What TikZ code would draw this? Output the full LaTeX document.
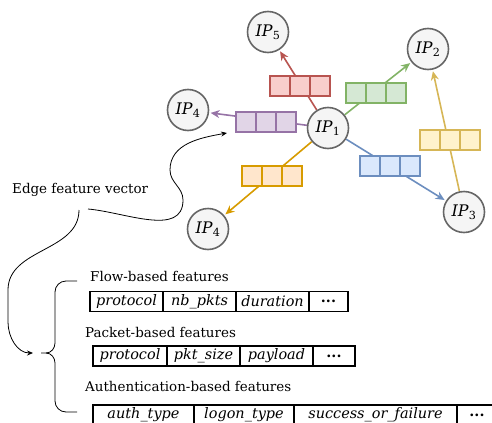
\documentclass[tikz,border=0pt]{standalone}
\usepackage{fontspec}
\setmainfont{DejaVu Serif}
\usetikzlibrary{arrows.meta,backgrounds,positioning}

\definecolor{ipfill}{HTML}{F5F5F5}
\definecolor{ipline}{HTML}{666666}
\definecolor{redfill}{HTML}{F8CECC}
\definecolor{redline}{HTML}{B85450}
\definecolor{greenfill}{HTML}{D5E8D4}
\definecolor{greenline}{HTML}{82B366}
\definecolor{purplefill}{HTML}{E1D5E7}
\definecolor{purpleline}{HTML}{9673A6}
\definecolor{orangefill}{HTML}{FFE6CC}
\definecolor{orangeline}{HTML}{D79B00}
\definecolor{bluefill}{HTML}{DAE8FC}
\definecolor{blueline}{HTML}{6C8EBF}
\definecolor{yellowfill}{HTML}{FFF2CC}
\definecolor{yellowline}{HTML}{D6B656}

\newcommand{\iplbl}[1]{\textit{IP}\textsubscript{#1}}

\begin{document}
\begin{tikzpicture}[x=1bp,y=1bp,>={Stealth[length=9bp,width=8bp]},
  ip/.style={circle,draw=ipline,fill=ipfill,line width=1.6bp,minimum size=41bp,inner sep=0pt,font=\fontsize{16}{18}\selectfont},
  cell/.style={draw=#1line,fill=#1fill,line width=1.4bp,minimum size=20bp,inner sep=0pt,outer sep=0pt},
  link/.style={->,line width=1.6bp,color=#1line,shorten >=1.5bp},
  feat/.style={draw,line width=1.6bp,minimum height=20bp,inner sep=0pt,outer sep=0pt,font=\fontsize{14.5}{16}\selectfont\itshape},
  ttl/.style={anchor=base west,inner sep=0pt,font=\fontsize{13.5}{16}\selectfont},
  curve/.style={->,line width=0.8bp,>={Stealth[length=6bp,width=5bp]}}]
  \useasboundingbox (0,0) rectangle (492,422);

  % hosts
  \node[ip] (ip1) at (328,294) {\iplbl{1}};
  \node[ip] (ip5) at (268,390) {\iplbl{5}};
  \node[ip] (ip2) at (428,373) {\iplbl{2}};
  \node[ip] (ip4a) at (188,312) {\iplbl{4}};
  \node[ip] (ip4b) at (208,193) {\iplbl{4}};
  \node[ip] (ip3) at (464,210) {\iplbl{3}};

  % edge vectors
  \node[cell=red]    (red2)    at (300,336) {};
  \node[cell=red]    (red1)    [left=0pt of red2]    {};
  \node[cell=red]    (red3)    [right=0pt of red2]   {};
  \node[cell=green]  (green2)  at (376,329) {};
  \node[cell=green]  (green1)  [left=0pt of green2]  {};
  \node[cell=green]  (green3)  [right=0pt of green2] {};
  \node[cell=purple] (purple2) at (266,300) {};
  \node[cell=purple] (purple1) [left=0pt of purple2] {};
  \node[cell=purple] (purple3) [right=0pt of purple2]{};
  \node[cell=orange] (orange2) at (272,246) {};
  \node[cell=orange] (orange1) [left=0pt of orange2] {};
  \node[cell=orange] (orange3) [right=0pt of orange2]{};
  \node[cell=blue]   (blue2)   at (390,256) {};
  \node[cell=blue]   (blue1)   [left=0pt of blue2]   {};
  \node[cell=blue]   (blue3)   [right=0pt of blue2]  {};
  \node[cell=yellow] (yellow2) at (450,282) {};
  \node[cell=yellow] (yellow1) [left=0pt of yellow2] {};
  \node[cell=yellow] (yellow3) [right=0pt of yellow2]{};

  \begin{scope}[on background layer]
    \draw[link=red]    (ip1) to (ip5);
    \draw[link=green]  (ip1) to (ip2);
    \draw[link=purple] (ip1) to (ip4a);
    \draw[link=orange] (ip1) to (ip4b);
    \draw[link=blue]   (ip1) to (ip3);
    \draw[link=yellow] (ip3) to (ip2);
  \end{scope}

  % label and pointers
  \node[ttl] (edge) at (12,229) {Edge feature vector};
  \coordinate (edgeA) at (88,213);
  \coordinate (edgeB) at (79,212);
  \coordinate (vecin) at (227,289);
  \coordinate (btip)  at (41,69);
  \coordinate (bin)   at (33,69);
  \draw[curve] (edgeA) to[out=-5,in=-90] (183,222) to[out=90,in=-90] (170,252)
    to[out=90,in=190] (vecin);
  \draw[curve] (edgeB) to[out=-90,in=90] (8,132) -- (8,100) to[out=-90,in=180] (bin);

  % brace
  \draw[line width=0.8bp] (77,141) -- (66,141) to[out=180,in=90] (55,130) -- (55,79)
    to[out=-90,in=0] (46,69) -- (btip);
  \draw[line width=0.8bp] (46,69) to[out=0,in=90] (55,59) -- (55,21)
    to[out=-90,in=180] (66,10) -- (77,10);

  % feature tables
  \node[ttl] (flow) at (90,141) {Flow-based features};
  \node[feat,minimum width=73bp,anchor=west] (f1) at (90,120.5) {protocol};
  \node[feat,minimum width=73bp] (f2) [right=0pt of f1] {nb\_pkts};
  \node[feat,minimum width=73bp] (f3) [right=0pt of f2] {duration};
  \node[feat,minimum width=39bp] (f4) [right=0pt of f3] {\upshape\bfseries ...};

  \node[ttl] (packet) at (85,85) {Packet-based features};
  \node[feat,minimum width=74bp,anchor=west] (p1) at (93,66) {protocol};
  \node[feat,minimum width=73bp] (p2) [right=0pt of p1] {pkt\_size};
  \node[feat,minimum width=73bp] (p3) [right=0pt of p2] {payload};
  \node[feat,minimum width=42bp] (p4) [right=0pt of p3] {\upshape\bfseries ...};

  \node[ttl] (auth) at (85,31) {Authentication-based features};
  \node[feat,minimum width=101bp,anchor=west] (a1) at (93,7) {auth\_type};
  \node[feat,minimum width=100bp] (a2) [right=0pt of a1] {logon\_type};
  \node[feat,minimum width=163bp] (a3) [right=0pt of a2] {success\_or\_failure};
  \node[feat,minimum width=40bp]  (a4) [right=0pt of a3] {\upshape\bfseries ...};
\end{tikzpicture}
\end{document}
